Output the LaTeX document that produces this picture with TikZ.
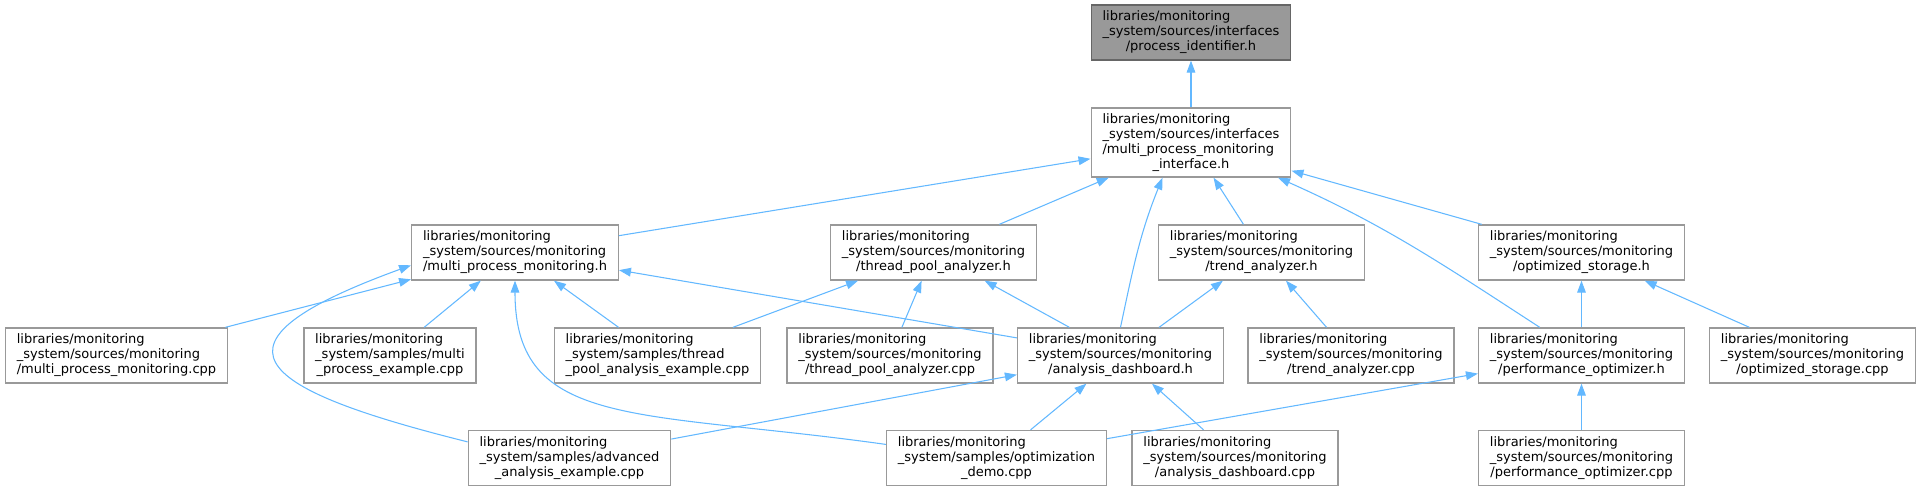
\documentclass[tikz,border=0pt]{standalone}
\definecolor{dxedge}{HTML}{63B8FF}
\definecolor{dxline}{HTML}{999999}
\definecolor{dxroot}{HTML}{999999}
\definecolor{dxrootline}{HTML}{666666}
\usepackage{fontspec}
\setmainfont{DejaVu Sans}
\usetikzlibrary{arrows.meta}
\newcommand{\lastln}{\hspace*{0pt plus 1fil}}

\begin{document}
\begin{tikzpicture}[x=0.75pt, y=-0.75pt,
  file/.style={draw=dxline, fill=white, line width=1pt, align=left,
               font=\fontsize{9.75}{11.25}\selectfont,
               inner xsep=8.5pt, inner ysep=0pt, minimum height=41.25pt},
  tall/.style={minimum height=51.75pt},
  root/.style={file, fill=dxroot, draw=dxrootline},
  dep/.style={draw=dxedge, line width=0.8pt, -{Triangle[length=9pt, width=6.5pt]}},
]
  \useasboundingbox (0,0) rectangle (1921,491);

  % Root and interface
  \node[root] (procid) at (1191,32.5) {libraries/monitoring\\\_system/sources/interfaces\\\lastln/process\_identifier.h};
  \node[file, tall] (mpiface) at (1191,142.5) {libraries/monitoring\\\_system/sources/interfaces\\/multi\_process\_monitoring\\\lastln\_interface.h};

  % Headers
  \node[file] (mpmon) at (515,252.5) {libraries/monitoring\\\_system/sources/monitoring\\\lastln/multi\_process\_monitoring.h};
  \node[file] (tpool) at (933.5,252.5) {libraries/monitoring\\\_system/sources/monitoring\\\lastln/thread\_pool\_analyzer.h};
  \node[file] (trend) at (1261.5,252.5) {libraries/monitoring\\\_system/sources/monitoring\\\lastln/trend\_analyzer.h};
  \node[file] (ostore) at (1581.5,252.5) {libraries/monitoring\\\_system/sources/monitoring\\\lastln/optimized\_storage.h};

  % Middle row
  \node[file] (mpmoncpp) at (116.5,355.5) {libraries/monitoring\\\_system/sources/monitoring\\\lastln/multi\_process\_monitoring.cpp};
  \node[file] (mpexample) at (390,355.5) {libraries/monitoring\\\_system/samples/multi\\\lastln\_process\_example.cpp};
  \node[file] (tpexample) at (657.5,355.5) {libraries/monitoring\\\_system/samples/thread\\\lastln\_pool\_analysis\_example.cpp};
  \node[file] (tpoolcpp) at (890,355.5) {libraries/monitoring\\\_system/sources/monitoring\\\lastln/thread\_pool\_analyzer.cpp};
  \node[file] (dash) at (1120.5,355.5) {libraries/monitoring\\\_system/sources/monitoring\\\lastln/analysis\_dashboard.h};
  \node[file] (trendcpp) at (1351,355.5) {libraries/monitoring\\\_system/sources/monitoring\\\lastln/trend\_analyzer.cpp};
  \node[file] (perf) at (1581.5,355.5) {libraries/monitoring\\\_system/sources/monitoring\\\lastln/performance\_optimizer.h};
  \node[file] (ostorecpp) at (1812.5,355.5) {libraries/monitoring\\\_system/sources/monitoring\\\lastln/optimized\_storage.cpp};

  % Bottom row
  \node[file] (advexample) at (569.5,458) {libraries/monitoring\\\_system/samples/advanced\\\lastln\_analysis\_example.cpp};
  \node[file] (optdemo) at (996.5,458) {libraries/monitoring\\\_system/samples/optimization\\\lastln\_demo.cpp};
  \node[file] (dashcpp) at (1235,458) {libraries/monitoring\\\_system/sources/monitoring\\\lastln/analysis\_dashboard.cpp};
  \node[file] (perfcpp) at (1581.5,458) {libraries/monitoring\\\_system/sources/monitoring\\\lastln/performance\_optimizer.cpp};

  % Includes
  \draw[dep] (mpiface) -- (procid);
  \draw[dep] (mpmon) -- (mpiface);
  \draw[dep] (tpool) -- (mpiface);
  \draw[dep] (dash.north) to[out=78, in=248] (mpiface.231);
  \draw[dep] (trend) -- (mpiface);
  \draw[dep] (perf.146) to[out=147, in=-24] (mpiface.-22);
  \draw[dep] (ostore) -- (mpiface);

  \draw[dep] (mpmoncpp) -- (mpmon);
  \draw[dep] (mpexample) -- (mpmon);
  \draw[dep] (tpexample) -- (mpmon);
  \draw[dep] (dash) -- (mpmon);
  \draw[dep] (advexample.171) to[out=166, in=200, out distance=170pt, in distance=170pt] (mpmon.187);
  \draw[dep] (optdemo.173) to[out=172, in=270, out distance=187pt, in distance=112pt] (mpmon.south);

  \draw[dep] (tpexample) -- (tpool);
  \draw[dep] (tpoolcpp) -- (tpool);
  \draw[dep] (dash) -- (tpool);
  \draw[dep] (dash) -- (trend);
  \draw[dep] (trendcpp) -- (trend);
  \draw[dep] (perf) -- (ostore);
  \draw[dep] (ostorecpp) -- (ostore);

  \draw[dep] (advexample) -- (dash);
  \draw[dep] (optdemo) -- (dash);
  \draw[dep] (dashcpp) -- (dash);
  \draw[dep] (optdemo) -- (perf);
  \draw[dep] (perfcpp) -- (perf);
\end{tikzpicture}
\end{document}
